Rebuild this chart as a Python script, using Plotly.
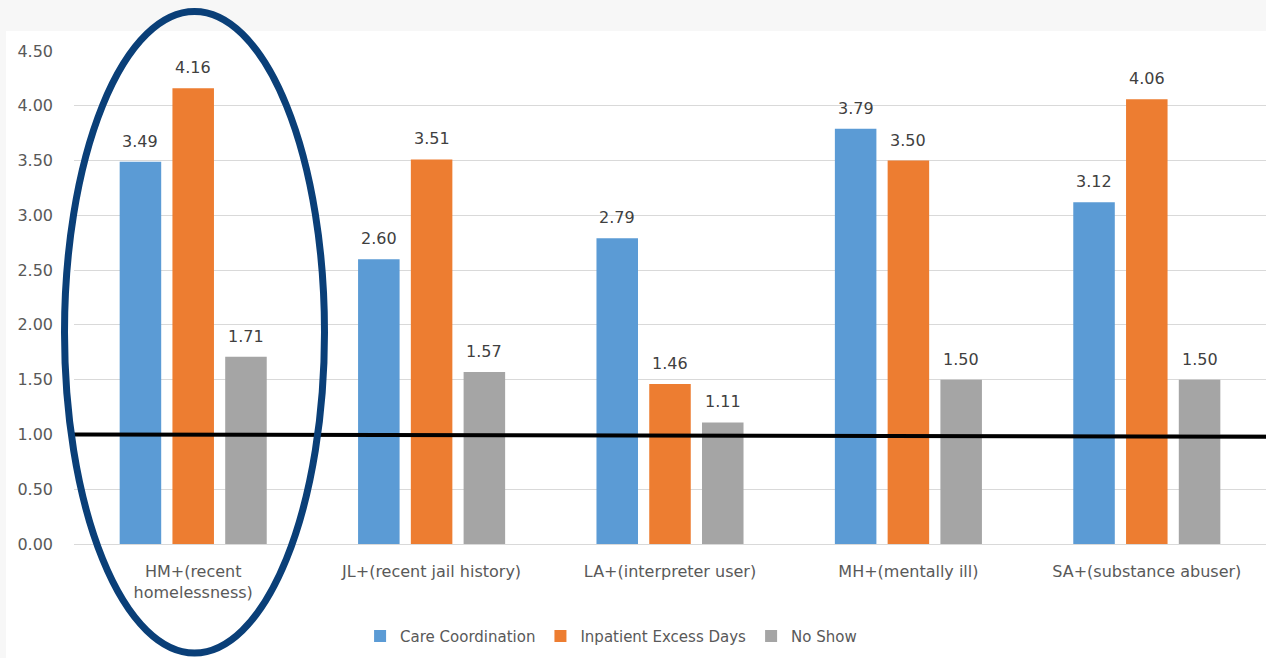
import plotly.graph_objects as go

# Population segments and relative-cost ratios per measure
categories = [
    "HM+(recent<br>homelessness)",
    "JL+(recent jail history)",
    "LA+(interpreter user)",
    "MH+(mentally ill)",
    "SA+(substance abuser)",
]
care_coordination = [3.49, 2.60, 2.79, 3.79, 3.12]
inpatient_excess_days = [4.16, 3.51, 1.46, 3.50, 4.06]
no_show = [1.71, 1.57, 1.11, 1.50, 1.50]

series_names = ["Care Coordination", "Inpatient Excess Days", "No Show"]
series_values = [care_coordination, inpatient_excess_days, no_show]
series_colors = ["#5b9bd5", "#ed7d31", "#a5a5a5"]

y_ticks = [0, 0.5, 1.0, 1.5, 2.0, 2.5, 3.0, 3.5, 4.0, 4.5]
reference_level = 1.0

W, H = 1266, 658
M_L, M_R, M_T, M_B = 74, 0, 51, 114
plot_w = W - M_L - M_R
plot_h = H - M_T - M_B

BARGAP = 0.336
BARGROUPGAP = 0.213
FONT = "DejaVu Sans"

fig = go.Figure()
for name, vals, col in zip(series_names, series_values, series_colors):
    fig.add_trace(go.Bar(
        name=name, x=categories, y=vals, marker_color=col,
        marker_line_width=0,
    ))

# Value labels above each bar, offset to the bar's slot inside the group
cat_px = plot_w / len(categories)
group_px = cat_px * (1 - BARGAP)
slot_px = group_px / len(series_names)
for i, vals in enumerate(series_values):
    xshift = (i - (len(series_names) - 1) / 2) * slot_px
    for cat, v in zip(categories, vals):
        fig.add_annotation(
            x=cat, y=v, text=f"{v:.2f}", showarrow=False,
            xref="x", yref="y", xanchor="center", yanchor="bottom",
            xshift=xshift, yshift=9,
            font=dict(family=FONT, size=16, color="#404040"),
        )

shapes = []
# Slide-style backdrop strips
shapes.append(dict(type="rect", xref="paper", yref="paper",
                   x0=-M_L / plot_w, x1=1.0, y0=(plot_h + (M_T - 31)) / plot_h,
                   y1=(plot_h + M_T) / plot_h,
                   fillcolor="#f7f7f7", line_width=0, layer="below"))
shapes.append(dict(type="rect", xref="paper", yref="paper",
                   x0=-M_L / plot_w, x1=(6 - M_L) / plot_w, y0=-M_B / plot_h,
                   y1=(plot_h + M_T) / plot_h,
                   fillcolor="#f7f7f7", line_width=0, layer="below"))
# Baseline at ratio 1.0
shapes.append(dict(type="line", xref="paper", yref="y",
                   x0=0, x1=1, y0=reference_level, y1=reference_level - 0.02,
                   line=dict(color="#000000", width=4)))
# Highlight ring around the first segment
shapes.append(dict(type="circle", xref="paper", yref="paper",
                   x0=(64.5 - M_L) / plot_w, x1=(324.5 - M_L) / plot_w,
                   y0=(plot_h - (653 - M_T)) / plot_h,
                   y1=(plot_h - (11.5 - M_T)) / plot_h,
                   line=dict(color="#0a3f78", width=7)))

fig.update_layout(
    width=W, height=H,
    margin=dict(l=M_L, r=M_R, t=M_T, b=M_B, pad=0),
    paper_bgcolor="#ffffff", plot_bgcolor="#ffffff",
    barmode="group", bargap=BARGAP, bargroupgap=BARGROUPGAP,
    font=dict(family=FONT, color="#595959"),
    shapes=shapes,
    showlegend=True,
    legend=dict(
        orientation="h", x=0.24, xanchor="left", y=-0.187, yanchor="middle",
        font=dict(family=FONT, size=15, color="#595959"),
        itemwidth=30, tracegroupgap=0, bgcolor="rgba(0,0,0,0)",
    ),
)
fig.update_xaxes(
    showgrid=False, showline=True, linecolor="#d9d9d9", linewidth=1,
    tickfont=dict(family=FONT, size=16, color="#595959"),
    ticks="", ticklabelstandoff=13,
)
fig.update_yaxes(
    range=[0, 4.5], tickvals=y_ticks, tickformat=".2f",
    showgrid=True, gridcolor="#d9d9d9", gridwidth=1,
    zeroline=False, showline=False,
    tickfont=dict(family=FONT, size=16, color="#595959"),
    ticks="", ticklabelstandoff=20,
)

fig.write_html("out.html")
